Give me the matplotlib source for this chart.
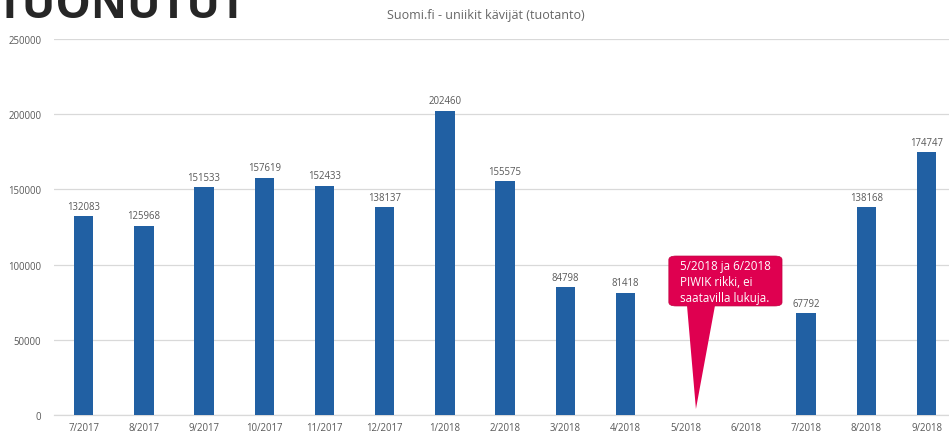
import matplotlib
matplotlib.use("Agg")
import matplotlib.pyplot as plt
from matplotlib.patches import FancyBboxPatch, Polygon
import numpy as np

categories = ["7/2017", "8/2017", "9/2017", "10/2017", "11/2017", "12/2017", "1/2018",
              "2/2018", "3/2018", "4/2018", "5/2018", "6/2018", "7/2018", "8/2018", "9/2018"]
values = [132083, 125968, 151533, 157619, 152433, 138137, 202460,
          155575, 84798, 81418, None, None, 67792, 138168, 174747]
yticks = [0, 50000, 100000, 150000, 200000, 250000]
title = "Suomi.fi - uniikit kävijät (tuotanto)"
heading = "TUONUTUT"
callout = "5/2018 ja 6/2018\nPIWIK rikki, ei\nsaatavilla lukuja."

plt.rcParams['font.family'] = ['Open Sans', 'DejaVu Sans']

W, H = 949, 435
fig = plt.figure(figsize=(W / 100, H / 100), dpi=100)
ax = fig.add_axes([53.6 / W, (H - 416) / H, 903 / W, 376 / H])

bar_color = "#2160A3"
grid_color = "#D9D9D9"
text_gray = "#595959"

x = np.arange(len(categories))
for i, v in enumerate(values):
    if v is None:
        continue
    ax.bar(i, v, width=0.32, color=bar_color, zorder=3)
    ax.text(i, v + 3000, str(v), ha="center", va="bottom", fontsize=6.9, color=text_gray)

ax.set_xlim(-0.5, len(categories) - 0.5)
ax.set_ylim(0, 250000)
ax.set_yticks(yticks)
ax.set_yticklabels([str(t) for t in yticks], fontsize=6.9, color=text_gray)
ax.set_xticks(x)
ax.set_xticklabels(categories, fontsize=6.9, color=text_gray)
ax.tick_params(axis="both", length=0)
ax.tick_params(axis="y", pad=9)
ax.tick_params(axis="x", pad=5)
ax.yaxis.grid(True, color=grid_color, linewidth=0.9, zorder=0)
for s in ax.spines.values():
    s.set_visible(False)
ax.spines["bottom"].set_visible(True)
ax.spines["bottom"].set_color(grid_color)
ax.spines["bottom"].set_linewidth(0.9)

fig.text(486 / W, 1 - 16 / H, title, ha="center", va="center", fontsize=9, color="#666666")
fig.text(-4 / W, 1 - 18 / H, heading, ha="left", va="baseline", fontsize=32,
         fontweight="bold", color="#262626")

# callout
red = "#DF0050"
box = FancyBboxPatch((9.72, 72500), 11.6 - 9.72, 105700 - 72500,
                     boxstyle="round,pad=0,rounding_size=0.12", mutation_aspect=20000,
                     fc=red, ec="#C00040", lw=0.5, zorder=5)
ax.add_patch(box)
tri = Polygon([[10.02, 73500], [10.49, 73500], [10.17, 4000]], closed=True,
              fc=red, ec="none", zorder=5)
ax.add_patch(tri)
ax.text(9.9, 89000, callout, ha="left", va="center", fontsize=8.4, color="white",
        zorder=6, linespacing=1.3)

fig.savefig("out.png", dpi=100)
